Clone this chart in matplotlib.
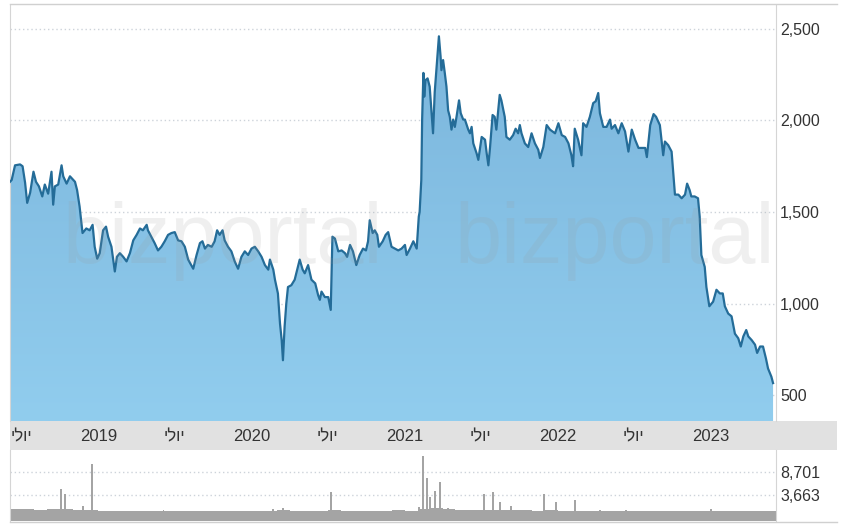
import numpy as np
import pandas as pd
import matplotlib
matplotlib.use('Agg')
import matplotlib.pyplot as plt
import matplotlib.dates as mdates
from matplotlib.colors import LinearSegmentedColormap
from matplotlib.lines import Line2D
from matplotlib.patches import Rectangle

plt.rcParams['font.family'] = ['Liberation Sans', 'DejaVu Sans']

# closing price
dates = [
    '2018-06-04', '2018-06-08', '2018-06-16', '2018-06-28', '2018-07-04', '2018-07-10', '2018-07-15',
    '2018-07-22', '2018-07-30', '2018-08-05', '2018-08-12', '2018-08-20', '2018-08-26', '2018-09-03',
    '2018-09-11', '2018-09-15', '2018-09-19', '2018-09-27', '2018-10-05', '2018-10-09', '2018-10-17',
    '2018-10-25', '2018-11-06', '2018-11-11', '2018-11-17', '2018-11-24', '2018-12-03', '2018-12-11',
    '2018-12-18', '2018-12-23', '2018-12-29', '2019-01-04', '2019-01-12', '2019-01-19', '2019-01-24',
    '2019-02-01', '2019-02-09', '2019-02-14', '2019-02-21', '2019-03-01', '2019-03-09', '2019-03-17',
    '2019-03-25', '2019-04-02', '2019-04-10', '2019-04-17', '2019-04-26', '2019-04-29', '2019-05-07',
    '2019-05-15', '2019-05-23', '2019-05-31', '2019-06-08', '2019-06-16', '2019-06-24', '2019-07-02',
    '2019-07-10', '2019-07-18', '2019-07-26', '2019-08-03', '2019-08-15', '2019-08-23', '2019-08-31',
    '2019-09-06', '2019-09-12', '2019-09-19', '2019-09-28', '2019-10-05', '2019-10-11', '2019-10-17',
    '2019-10-24', '2019-10-29', '2019-11-06', '2019-11-14', '2019-11-22', '2019-11-30', '2019-12-08',
    '2019-12-16', '2019-12-24', '2020-01-01', '2020-01-09', '2020-01-17', '2020-01-25', '2020-02-02',
    '2020-02-10', '2020-02-14', '2020-02-22', '2020-02-26', '2020-03-04', '2020-03-09', '2020-03-13',
    '2020-03-16', '2020-03-20', '2020-03-24', '2020-03-28', '2020-04-05', '2020-04-13', '2020-04-19',
    '2020-04-25', '2020-05-02', '2020-05-07', '2020-05-15', '2020-05-23', '2020-06-01', '2020-06-08',
    '2020-06-12', '2020-06-16', '2020-06-24', '2020-07-02', '2020-07-08', '2020-07-10', '2020-07-12',
    '2020-07-18', '2020-07-26', '2020-08-03', '2020-08-11', '2020-08-16', '2020-08-23', '2020-08-30',
    '2020-09-07', '2020-09-15', '2020-09-23', '2020-09-30', '2020-10-05', '2020-10-09', '2020-10-16',
    '2020-10-21', '2020-10-27', '2020-10-31', '2020-11-09', '2020-11-16', '2020-11-22', '2020-11-30',
    '2020-12-08', '2020-12-16', '2020-12-24', '2021-01-01', '2021-01-05', '2021-01-13', '2021-01-21',
    '2021-01-29', '2021-02-03', '2021-02-05', '2021-02-09', '2021-02-11', '2021-02-14', '2021-02-16',
    '2021-02-19', '2021-02-24', '2021-03-01', '2021-03-09', '2021-03-13', '2021-03-17', '2021-03-23',
    '2021-03-27', '2021-03-29', '2021-04-02', '2021-04-06', '2021-04-10', '2021-04-14', '2021-04-18',
    '2021-04-22', '2021-04-26', '2021-04-30', '2021-05-04', '2021-05-10', '2021-05-14', '2021-05-20',
    '2021-05-24', '2021-06-01', '2021-06-05', '2021-06-09', '2021-06-13', '2021-06-21', '2021-06-25',
    '2021-07-03', '2021-07-11', '2021-07-15', '2021-07-19', '2021-07-23', '2021-07-29', '2021-08-03',
    '2021-08-07', '2021-08-15', '2021-08-19', '2021-08-27', '2021-08-31', '2021-09-08', '2021-09-16',
    '2021-09-22', '2021-09-28', '2021-10-02', '2021-10-06', '2021-10-14', '2021-10-22', '2021-10-30',
    '2021-11-07', '2021-11-15', '2021-11-19', '2021-11-27', '2021-12-05', '2021-12-13', '2021-12-25',
    '2022-01-02', '2022-01-10', '2022-01-18', '2022-01-26', '2022-02-02', '2022-02-06', '2022-02-10',
    '2022-02-18', '2022-02-26', '2022-03-02', '2022-03-10', '2022-03-18', '2022-03-26', '2022-04-01',
    '2022-04-07', '2022-04-11', '2022-04-19', '2022-04-27', '2022-05-05', '2022-05-09', '2022-05-17',
    '2022-05-25', '2022-06-02', '2022-06-10', '2022-06-18', '2022-06-26', '2022-07-04', '2022-07-12',
    '2022-07-20', '2022-07-28', '2022-08-01', '2022-08-09', '2022-08-17', '2022-08-23', '2022-09-01',
    '2022-09-05', '2022-09-09', '2022-09-13', '2022-09-21', '2022-09-29', '2022-10-03', '2022-10-07',
    '2022-10-15', '2022-10-23', '2022-10-31', '2022-11-05', '2022-11-11', '2022-11-15', '2022-11-23',
    '2022-12-01', '2022-12-05', '2022-12-09', '2022-12-17', '2022-12-21', '2022-12-28', '2023-01-06',
    '2023-01-14', '2023-01-22', '2023-01-29', '2023-02-03', '2023-02-11', '2023-02-19', '2023-02-27',
    '2023-03-07', '2023-03-13', '2023-03-19', '2023-03-26', '2023-03-31', '2023-04-08', '2023-04-16',
    '2023-04-21', '2023-04-28', '2023-05-05', '2023-05-12', '2023-05-17', '2023-05-25', '2023-05-29',
]
close = [
    1665, 1675, 1755, 1760, 1750, 1660, 1550,
    1605, 1720, 1665, 1640, 1585, 1650, 1600,
    1720, 1540, 1640, 1650, 1755, 1695, 1655,
    1695, 1665, 1620, 1530, 1385, 1410, 1400,
    1430, 1310, 1245, 1275, 1400, 1420, 1365,
    1310, 1175, 1255, 1275, 1255, 1230, 1275,
    1345, 1375, 1410, 1400, 1430, 1400, 1365,
    1330, 1290, 1310, 1340, 1375, 1385, 1390,
    1345, 1340, 1310, 1240, 1190, 1265, 1330,
    1340, 1300, 1320, 1310, 1340, 1400, 1375,
    1400, 1345, 1310, 1285, 1230, 1190, 1255,
    1285, 1265, 1300, 1310, 1285, 1255, 1210,
    1185, 1240, 1185, 1130, 1055, 890, 800,
    690, 875, 1000, 1090, 1100, 1130, 1185,
    1240, 1185, 1165, 1210, 1130, 1110, 1045,
    1020, 1065, 1035, 1035, 965, 1165, 1365,
    1355, 1285, 1290, 1275, 1255, 1320, 1285,
    1210, 1265, 1300, 1290, 1340, 1455, 1385,
    1400, 1375, 1310, 1340, 1375, 1390, 1310,
    1300, 1290, 1300, 1320, 1265, 1300, 1340,
    1300, 1475, 1500, 1675, 2005, 2260, 2130,
    2220, 2230, 2185, 1930, 2155, 2275, 2460,
    2350, 2275, 2330, 2260, 2185, 2055, 2020,
    1950, 2005, 1965, 2020, 2110, 2040, 2005,
    2005, 1950, 1930, 1965, 1875, 1820, 1785,
    1910, 1895, 1820, 1755, 1855, 2030, 2020,
    1950, 2140, 2110, 2020, 1910, 1895, 1920,
    1955, 1930, 1975, 1930, 1875, 1855, 1930,
    1875, 1840, 1795, 1855, 1975, 1950, 1930,
    1985, 1920, 1910, 1875, 1810, 1750, 1955,
    1895, 1810, 1985, 1965, 2020, 2095, 2105,
    2150, 2040, 1965, 1965, 2005, 1955, 1975,
    1930, 1985, 1940, 1830, 1950, 1895, 1850,
    1850, 1850, 1800, 1975, 2035, 2020, 1975,
    1895, 1810, 1885, 1865, 1830, 1710, 1595,
    1595, 1575, 1595, 1655, 1620, 1585, 1585,
    1575, 1475, 1265, 1200, 1090, 985, 1010,
    1075, 1055, 1055, 985, 945, 930, 835,
    810, 765, 820, 855, 820, 800, 775,
    730, 765, 765, 700, 645, 600, 565,
]

# typical monthly volume, June 2018 .. June 2023
vol_month = [
    500, 700, 400, 600, 500, 400, 350,
    200, 200, 150, 150, 250, 150, 200, 150, 150, 200, 150, 200,
    200, 250, 400, 250, 200, 150, 300, 150, 150, 200, 250, 300,
    250, 700, 800, 500, 400, 300, 400, 350, 300, 300, 250, 300,
    200, 250, 150, 150, 100, 100, 100, 100, 80, 80, 100, 100,
    100, 80, 80, 100, 150, 200,
]
# single-day volume spikes
spike_dates = [
    '2018-10-03', '2018-10-13', '2018-11-25', '2018-12-16', '2019-06-05', '2020-02-21',
    '2020-03-16', '2020-07-08', '2021-02-03', '2021-02-12', '2021-02-22', '2021-03-02',
    '2021-03-14', '2021-03-25', '2021-04-13', '2021-07-08', '2021-07-30', '2021-08-15',
    '2021-09-12', '2021-11-28', '2021-12-27', '2022-02-10', '2022-04-11', '2022-06-12',
    '2023-01-01',
]
spike_vol = [
    5000, 3900, 1250, 10400, 400, 600,
    800, 4300, 1000, 12200, 7400, 3200,
    4500, 6500, 800, 3900, 4300, 2100,
    1250, 3900, 2100, 2600, 400, 300,
    600,
]

price_ticks = [500, 1000, 1500, 2000, 2500]
vol_ticks = [3663, 8701]
tick_dates = ['2018-07-01', '2019-01-01', '2019-07-01', '2020-01-01', '2020-07-01',
              '2021-01-01', '2021-07-01', '2022-01-01', '2022-07-01', '2023-01-01']
july = 'יולי'
tick_labels = [july, '2019', july, '2020', july, '2021', july, '2022', july, '2023']

d = pd.to_datetime(dates)
y = np.array(close)
x0, x1 = pd.Timestamp('2018-06-04'), pd.Timestamp('2023-06-05')
ylo, yhi = 358, 2631
vlo, vhi = -2031, 13519

W, H = 852, 528
def box(l, t, r, b):
    return [l / W, 1 - b / H, (r - l) / W, (b - t) / H]

fig = plt.figure(figsize=(W / 100, H / 100), dpi=100)
ax = fig.add_axes(box(10, 5, 776, 421))
axv = fig.add_axes(box(10, 450, 776, 521))

# price area with vertical gradient
poly = ax.fill_between(d, y, ylo, color='none', lw=0)
cmap = LinearSegmentedColormap.from_list('fill', ['#7ab4db', '#91cdee'])
grad = ax.imshow(np.linspace(0, 1, 256).reshape(-1, 1), cmap=cmap, aspect='auto',
                 extent=[mdates.date2num(x0), mdates.date2num(x1), ylo, yhi],
                 origin='upper', zorder=1)
grad.set_clip_path(poly.get_paths()[0], transform=ax.transData)
ax.plot(d, y, color='#246c98', lw=1.6, zorder=3)

ax.set_xlim(x0, x1)
ax.set_ylim(ylo, yhi)
ax.yaxis.tick_right()
ax.set_yticks(price_ticks)
ax.set_yticklabels(['{:,}'.format(v) for v in price_ticks])
ax.grid(axis='y', color='#cdd3da', linestyle=(0, (1, 2)), lw=1)
ax.set_axisbelow(True)
ax.set_xticks(pd.to_datetime(tick_dates))
# matplotlib draws left-to-right, so Hebrew is reversed for display
ax.set_xticklabels([t[::-1] if t == july else t for t in tick_labels])
ax.tick_params(axis='x', length=0, pad=6, labelsize=12, labelcolor='#333333')
ax.tick_params(axis='y', length=0, pad=3, labelsize=11.5, labelcolor='#333333')
for s in ['top', 'bottom']:
    ax.spines[s].set_visible(False)
for s in ['left', 'right']:
    ax.spines[s].set_color('#d5d5d5')

# volume panel
months = pd.date_range('2018-06-01', periods=len(vol_month) + 1, freq='MS')
widths = np.diff(mdates.date2num(months))
axv.bar(months[:-1], np.array(vol_month) - vlo, bottom=vlo, width=widths, align='edge',
        color='#a4a4a4', lw=0)
axv.bar(pd.to_datetime(spike_dates), np.array(spike_vol) - vlo, bottom=vlo, width=4.5,
        color='#a4a4a4', lw=0)
axv.set_xlim(x0, x1)
axv.set_ylim(vlo, vhi)
axv.yaxis.tick_right()
axv.set_yticks(vol_ticks)
axv.set_yticklabels(['{:,}'.format(v) for v in vol_ticks])
axv.set_xticks([])
axv.grid(axis='y', color='#cdd3da', linestyle=(0, (1, 2)), lw=1)
axv.set_axisbelow(True)
axv.tick_params(axis='y', length=0, pad=3, labelsize=11.5, labelcolor='#333333')
for s in ['top', 'bottom']:
    axv.spines[s].set_visible(False)
for s in ['left', 'right']:
    axv.spines[s].set_color('#d5d5d5')

# date band and frame lines
fig.add_artist(Rectangle((10 / W, 1 - 450 / H), 827 / W, 29 / H, transform=fig.transFigure,
                         facecolor='#e1e1e1', edgecolor='none', zorder=0))
fig.add_artist(Line2D([10 / W, 837 / W], [1 - 4 / H] * 2, transform=fig.transFigure,
                      color='#d0d0d0', lw=1))
fig.add_artist(Line2D([10 / W, 837 / W], [1 - 521.5 / H] * 2, transform=fig.transFigure,
                      color='#d0d0d0', lw=1))

# watermark, kept clear of the price labels
for left in [62, 455]:
    fig.text(left / W, 1 - 263 / H, 'bizportal', fontsize=61, color='#9a9a9a', alpha=0.15,
             ha='left', va='baseline', zorder=10)

fig.savefig('out.png', dpi=100)
